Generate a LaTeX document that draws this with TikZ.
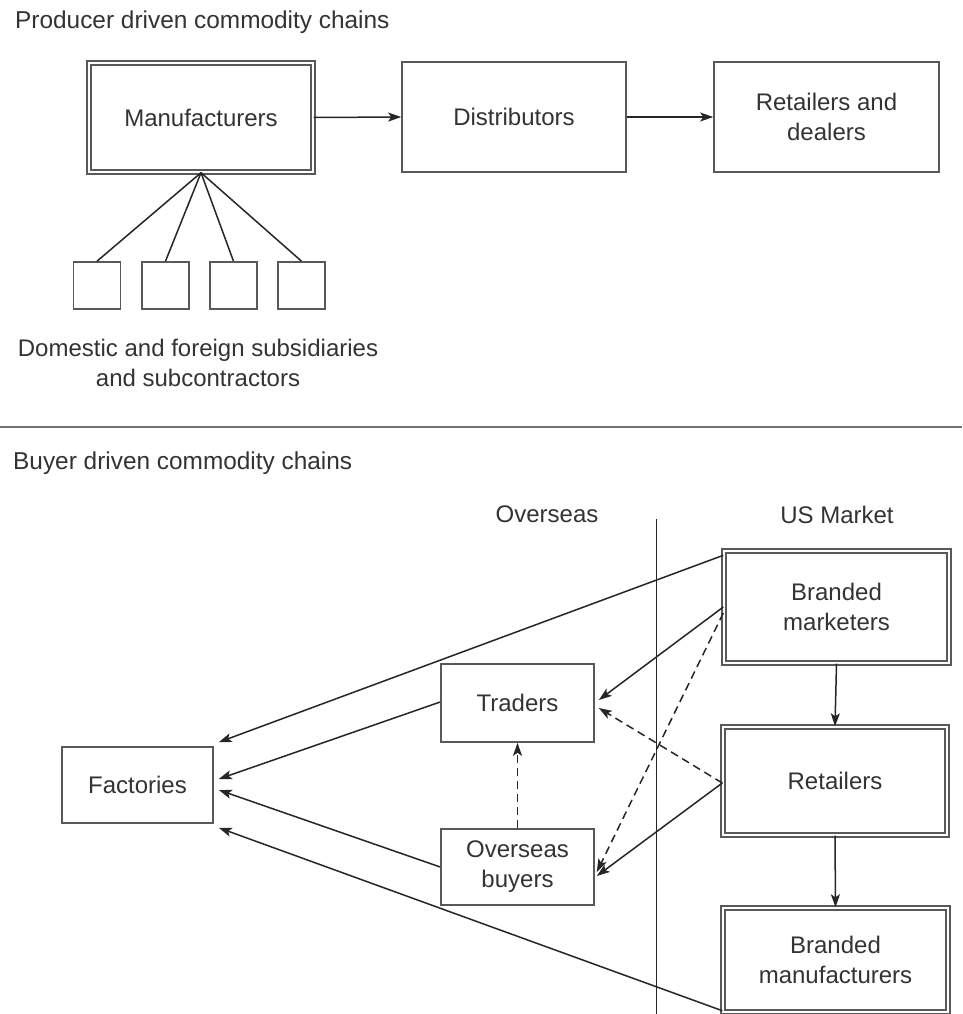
\documentclass[tikz,border=0pt]{standalone}
\usepackage{fontspec}
\setmainfont{Liberation Sans}
\usetikzlibrary{arrows.meta}
\begin{document}
\begin{tikzpicture}[x=1pt,y=-1pt,
  every node/.style={font=\fontsize{24}{30}\selectfont, text=black!80},
  box/.style={draw=black!65, line width=1.6pt, fill=white, inner sep=0pt, align=center},
  dbox/.style={box, double=white, double distance=2.6pt, line width=1.4pt},
  conn/.style={draw=black!85, line width=1.5pt},
  arr/.style={conn, -{Stealth[length=13pt,width=9pt,inset=3pt]}},
  darr/.style={arr, dash pattern=on 8pt off 5pt},
  lbl/.style={inner sep=0pt}
]
\useasboundingbox (0,0) rectangle (962,1014);
\fill[white] (0,0) rectangle (962,1014);

% ---------- Producer driven ----------
\node[lbl, anchor=west, font=\fontsize{24.4}{30}\selectfont] (t1) at (15,22) {Producer driven commodity chains};
\node[dbox, minimum width=224pt, minimum height=109pt] (man) at (201,117.5) {Manufacturers};
\node[box, minimum width=224pt, minimum height=110pt] (dist) at (514,117) {Distributors};
\node[box, minimum width=225pt, minimum height=110pt] (rd) at (826.5,117) {Retailers and\\dealers};
\draw[arr] (man.east) -- (dist.west);
\draw[arr] (dist.east) -- (rd.west);

\foreach \i/\x in {1/97,2/165.5,3/233.5,4/301.5}{
  \node[box, minimum width=47pt, minimum height=47pt] (s\i) at (\x,285.5) {};
  \draw[conn] (man.south) -- (s\i.north);
}
\node[lbl, align=center] (subs) at (198,363) {Domestic and foreign subsidiaries\\and subcontractors};

\draw[draw=black!55, line width=1.5pt] (0,427) coordinate (sepL) -- (962,427) coordinate (sepR);

% ---------- Buyer driven ----------
\node[lbl, anchor=west, font=\fontsize{24.4}{30}\selectfont] (t2) at (13,463) {Buyer driven commodity chains};
\node[lbl] (os) at (547,514) {Overseas};
\node[lbl] (us) at (837,515) {US Market};
\draw[draw=black!85, line width=1pt] (656,519) coordinate (vT) -- (656,1014) coordinate (vB);

\node[dbox, minimum width=225pt, minimum height=112pt] (bm) at (836.5,607) {Branded\\marketers};
\node[dbox, minimum width=224pt, minimum height=108pt] (ret) at (835,781) {Retailers};
\node[dbox, minimum width=225pt, minimum height=104pt] (bman) at (835.5,960) {Branded\\manufacturers};
\node[box, minimum width=153pt, minimum height=78pt] (tr) at (517.5,703) {Traders};
\node[box, minimum width=153pt, minimum height=76pt] (ob) at (517.5,867) {Overseas\\buyers};
\node[box, minimum width=151pt, minimum height=76pt] (fac) at (137.5,785) {Factories};

\draw[arr] (bm.south) -- (ret.north);
\draw[arr] (ret.south) -- (bman.north);

\draw[arr] ([yshift=-5pt]bm.north west) -- ([xshift=5pt,yshift=4pt]fac.north east);
\draw[arr] ([yshift=1pt]tr.west) -- ([xshift=5pt,yshift=6pt]fac.east);
\draw[arr] (ob.west) -- ([xshift=5pt,yshift=-5pt]fac.east);
\draw[arr] ([yshift=2pt]bman.south west) -- ([xshift=5pt,yshift=-4pt]fac.south east);

\draw[arr] (bm.west) -- ([xshift=4pt,yshift=3pt]tr.east);
\draw[darr] ([yshift=-6pt]bm.west) -- ([xshift=2pt,yshift=-5pt]ob.east);
\draw[darr] ([yshift=-2pt]ret.west) -- ([xshift=4pt,yshift=-5pt]tr.east);
\draw[arr] ([yshift=-2pt]ret.west) -- ([xshift=2pt,yshift=-9pt]ob.east);
\draw[darr] (ob.north) -- (tr.south);
\end{tikzpicture}
\end{document}
